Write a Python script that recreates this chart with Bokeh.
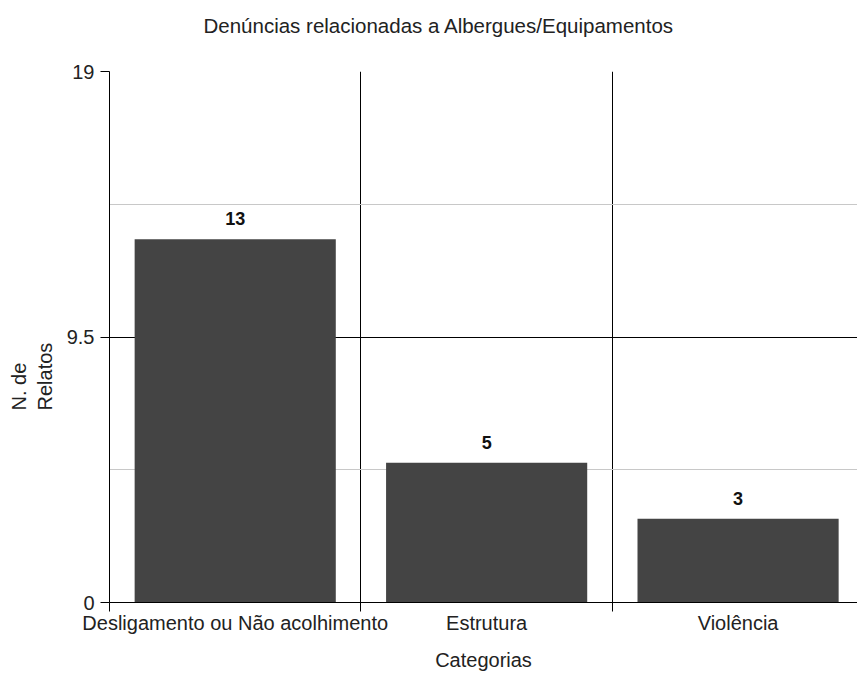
from bokeh.plotting import figure
from bokeh.models import ColumnDataSource, FixedTicker, Range1d, Title
from bokeh.core.properties import value
from bokeh.embed import file_html
from bokeh.resources import INLINE

# Data
categories = ["Desligamento ou Não acolhimento", "Estrutura", "Violência"]
counts = [13, 5, 3]
y_ticks = [0, 9.5, 19]
y_minor = [4.75, 14.25]
title_text = "Denúncias relacionadas a Albergues/Equipamentos"
x_label = "Categorias"
y_label = "N. de\nRelatos"

xpos = [i + 0.5 for i in range(len(categories))]
src = ColumnDataSource(dict(x=xpos, y=counts, lab=[str(c) for c in counts], cat=categories))

FONT = "Liberation Sans"
TXT = "#222222"

p = figure(width=857, height=673, output_backend="svg", toolbar_location=None,
           x_range=Range1d(0, 2.975), y_range=Range1d(0, 19),
           min_border_left=109, min_border_right=0, min_border_top=71, min_border_bottom=70)
p.outline_line_color = None
p.background_fill_color = "white"
p.border_fill_color = "white"

# spacer (nearest the frame) then the real title above it
p.add_layout(Title(text=" ", text_font_size="10px", standoff=11), "above")
p.add_layout(Title(text=title_text, align="left", offset=94, text_font=FONT,
                   text_font_size="20.5px", text_font_style="normal",
                   text_color=TXT, standoff=21), "above")

p.vbar(x="x", top="y", width=0.8, source=src, fill_color="#444444", line_color=None)
p.text(x="x", y="y", text="lab", source=src, y_offset=-14, text_align="center",
       text_baseline="bottom", text_font=value(FONT), text_font_size="18px",
       text_font_style="bold", text_color="#111111")

# x axis
xa = p.xaxis[0]
xa.ticker = FixedTicker(ticks=xpos, minor_ticks=list(range(len(categories) + 1)))
xa.major_label_overrides = {xv: c for xv, c in zip(xpos, categories)}
xa.major_tick_line_color = None
xa.major_tick_out = 0
xa.major_tick_in = 0
xa.minor_tick_out = 9
xa.minor_tick_in = 0
xa.minor_tick_line_color = "black"
xa.axis_line_color = "black"
xa.major_label_standoff = 0
xa.major_label_text_font = FONT
xa.major_label_text_font_size = "20px"
xa.major_label_text_color = TXT
xa.axis_label = x_label
xa.axis_label_text_font = FONT
xa.axis_label_text_font_size = "20px"
xa.axis_label_text_font_style = "normal"
xa.axis_label_text_color = TXT
xa.axis_label_standoff = 12

# y axis
ya = p.yaxis[0]
ya.ticker = FixedTicker(ticks=y_ticks, minor_ticks=y_minor)
ya.major_label_overrides = {0: "0", 9.5: "9.5", 19: "19"}
ya.major_tick_out = 9
ya.major_tick_in = 0
ya.major_tick_line_color = "black"
ya.minor_tick_line_color = None
ya.axis_line_color = "black"
ya.major_label_standoff = 6
ya.major_label_text_font = FONT
ya.major_label_text_font_size = "20px"
ya.major_label_text_color = TXT

# y axis label: two rotated lines, left-aligned like the reference
p.add_layout(Title(text=y_label, align="left", offset=192, vertical_align="top",
                   text_font=FONT, text_font_size="20px", text_font_style="normal",
                   text_color=TXT, text_line_height=1.2, standoff=12), "left")

# grids
p.xgrid.ticker = FixedTicker(ticks=[1, 2])
p.xgrid.grid_line_color = "black"
p.ygrid.grid_line_color = "black"
p.ygrid.minor_grid_line_color = "#c8c8c8"

open("out.html", "w").write(file_html(p, INLINE))
